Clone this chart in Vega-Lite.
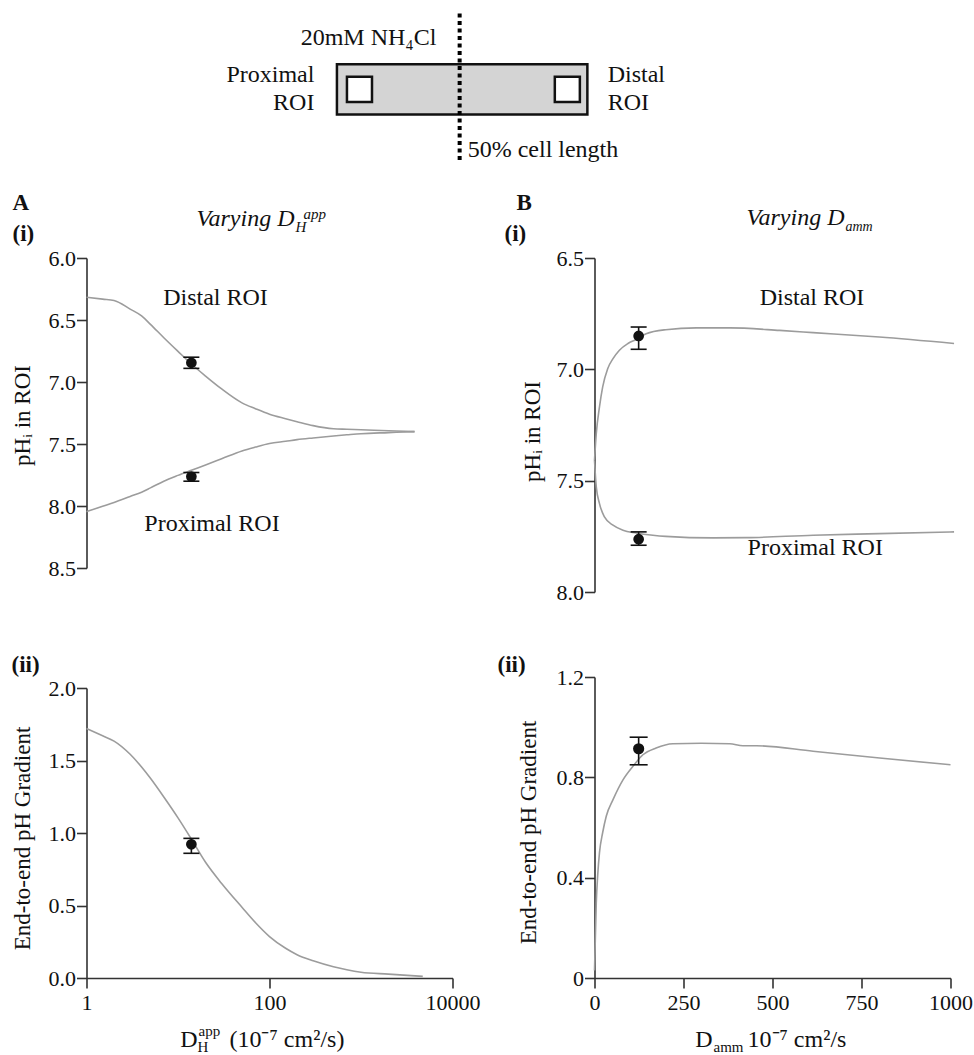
{
  "$schema": "https://vega.github.io/schema/vega-lite/v6.json",
  "background": "white",
  "padding": {"left": 11.5, "top": 8, "right": 2, "bottom": 2},
  "bounds": "flush",
  "spacing": 98,
  "config": {
    "font": "Liberation Serif",
    "view": {"stroke": null},
    "axis": {
      "grid": false,
      "domainColor": "#333333",
      "domainWidth": 1.6,
      "tickColor": "#333333",
      "tickWidth": 1.6,
      "tickSize": 10,
      "labelFont": "Liberation Serif",
      "labelFontSize": 22,
      "labelColor": "#111111",
      "labelFlush": false,
      "labelOverlap": false,
      "labelPadding": 1,
      "titleFont": "Liberation Serif",
      "titleFontSize": 23,
      "titleFontWeight": "normal",
      "titleColor": "#111111"
    },
    "text": {"font": "Liberation Serif", "fontSize": 23, "color": "#111111"}
  },
  "datasets": {
    "cell": [{"x": 0, "x2": 100, "y": -10, "y2": 10}],
    "rois": [
      {"roi": "Proximal", "x": 4, "x2": 14, "y": -5, "y2": 5},
      {"roi": "Distal", "x": 87, "x2": 97, "y": -5, "y2": 5}
    ],
    "midline": [{"x": 49, "y": -28.2, "y2": 31.7}],
    "diagram_labels_right": [
      {"label": "20mM NH₄Cl", "x": 39.7, "y": 17.8},
      {"label": "Proximal", "x": -9, "y": 2.8},
      {"label": "ROI", "x": -9, "y": -8.1}
    ],
    "diagram_labels_left": [
      {"label": "Distal", "x": 108.1, "y": 2.8},
      {"label": "ROI", "x": 108.1, "y": -8.1},
      {"label": "50% cell length", "x": 52.2, "y": -26.9}
    ],
    "ai_curves": [
      {"roi": "Distal", "D": 1, "v": 6.317}, {"roi": "Distal", "D": 1.5, "v": 6.332}, {"roi": "Distal", "D": 2, "v": 6.342},
      {"roi": "Distal", "D": 3, "v": 6.412}, {"roi": "Distal", "D": 4, "v": 6.467}, {"roi": "Distal", "D": 5, "v": 6.535},
      {"roi": "Distal", "D": 7, "v": 6.643}, {"roi": "Distal", "D": 10, "v": 6.753}, {"roi": "Distal", "D": 14, "v": 6.855},
      {"roi": "Distal", "D": 20, "v": 6.952}, {"roi": "Distal", "D": 30, "v": 7.056}, {"roi": "Distal", "D": 50, "v": 7.168},
      {"roi": "Distal", "D": 70, "v": 7.215}, {"roi": "Distal", "D": 100, "v": 7.26}, {"roi": "Distal", "D": 150, "v": 7.296},
      {"roi": "Distal", "D": 200, "v": 7.32}, {"roi": "Distal", "D": 300, "v": 7.352}, {"roi": "Distal", "D": 500, "v": 7.377},
      {"roi": "Distal", "D": 700, "v": 7.381}, {"roi": "Distal", "D": 1000, "v": 7.385}, {"roi": "Distal", "D": 2000, "v": 7.393},
      {"roi": "Distal", "D": 3850, "v": 7.4},
      {"roi": "Proximal", "D": 1, "v": 8.046}, {"roi": "Proximal", "D": 1.5, "v": 8.002}, {"roi": "Proximal", "D": 2, "v": 7.971},
      {"roi": "Proximal", "D": 3, "v": 7.923}, {"roi": "Proximal", "D": 4, "v": 7.889}, {"roi": "Proximal", "D": 5, "v": 7.854},
      {"roi": "Proximal", "D": 7, "v": 7.8}, {"roi": "Proximal", "D": 10, "v": 7.753}, {"roi": "Proximal", "D": 14, "v": 7.712},
      {"roi": "Proximal", "D": 20, "v": 7.669}, {"roi": "Proximal", "D": 30, "v": 7.619}, {"roi": "Proximal", "D": 50, "v": 7.556},
      {"roi": "Proximal", "D": 70, "v": 7.525}, {"roi": "Proximal", "D": 100, "v": 7.496}, {"roi": "Proximal", "D": 150, "v": 7.478},
      {"roi": "Proximal", "D": 200, "v": 7.465}, {"roi": "Proximal", "D": 300, "v": 7.451}, {"roi": "Proximal", "D": 500, "v": 7.435},
      {"roi": "Proximal", "D": 700, "v": 7.426}, {"roi": "Proximal", "D": 1000, "v": 7.417}, {"roi": "Proximal", "D": 2000, "v": 7.408},
      {"roi": "Proximal", "D": 3850, "v": 7.4}
    ],
    "ai_errs": [
      {"roi": "Distal", "D": 14, "v": 6.8}, {"roi": "Distal", "D": 14, "v": 6.89},
      {"roi": "Proximal", "D": 14, "v": 7.73}, {"roi": "Proximal", "D": 14, "v": 7.8}
    ],
    "ai_points": [
      {"roi": "Distal", "D": 14, "v": 6.845},
      {"roi": "Proximal", "D": 14, "v": 7.763}
    ],
    "ai_labels": [
      {"label": "Distal ROI", "D": 25.7, "v": 6.32},
      {"label": "Proximal ROI", "D": 23.5, "v": 8.145}
    ],
    "ai_corner": [{"D": 1, "v": 6.0}],
    "aii_curve": [
      {"D": 1, "v": 1.72}, {"D": 1.5, "v": 1.67}, {"D": 2, "v": 1.634}, {"D": 3, "v": 1.543}, {"D": 4, "v": 1.455},
      {"D": 5, "v": 1.377}, {"D": 7, "v": 1.248}, {"D": 10, "v": 1.104}, {"D": 14, "v": 0.958}, {"D": 20, "v": 0.798},
      {"D": 30, "v": 0.652}, {"D": 50, "v": 0.488}, {"D": 70, "v": 0.383}, {"D": 100, "v": 0.286}, {"D": 150, "v": 0.205},
      {"D": 200, "v": 0.161}, {"D": 300, "v": 0.119}, {"D": 500, "v": 0.078}, {"D": 700, "v": 0.057}, {"D": 1000, "v": 0.04},
      {"D": 2000, "v": 0.027}, {"D": 4730, "v": 0.011}
    ],
    "aii_errs": [{"D": 14, "v": 0.86}, {"D": 14, "v": 0.963}],
    "aii_point": [{"D": 14, "v": 0.922}],
    "aii_corner": [{"D": 1, "v": 2.0}],
    "aii_base": [{"D": 1, "v": 0}],
    "bi_curves": [
      {"roi": "Distal", "D": 0, "v": 7.408}, {"roi": "Distal", "D": 5, "v": 7.289}, {"roi": "Distal", "D": 14, "v": 7.169},
      {"roi": "Distal", "D": 23, "v": 7.079}, {"roi": "Distal", "D": 37, "v": 6.997}, {"roi": "Distal", "D": 52, "v": 6.952},
      {"roi": "Distal", "D": 70, "v": 6.914}, {"roi": "Distal", "D": 94, "v": 6.884}, {"roi": "Distal", "D": 117, "v": 6.866},
      {"roi": "Distal", "D": 145, "v": 6.84}, {"roi": "Distal", "D": 200, "v": 6.822}, {"roi": "Distal", "D": 286, "v": 6.814},
      {"roi": "Distal", "D": 380, "v": 6.814}, {"roi": "Distal", "D": 520, "v": 6.825}, {"roi": "Distal", "D": 614, "v": 6.835},
      {"roi": "Distal", "D": 800, "v": 6.855}, {"roi": "Distal", "D": 1010, "v": 6.884},
      {"roi": "Proximal", "D": 0, "v": 7.408}, {"roi": "Proximal", "D": 5, "v": 7.528}, {"roi": "Proximal", "D": 14, "v": 7.603},
      {"roi": "Proximal", "D": 28, "v": 7.663}, {"roi": "Proximal", "D": 52, "v": 7.7}, {"roi": "Proximal", "D": 80, "v": 7.723},
      {"roi": "Proximal", "D": 117, "v": 7.735}, {"roi": "Proximal", "D": 164, "v": 7.745}, {"roi": "Proximal", "D": 200, "v": 7.75},
      {"roi": "Proximal", "D": 333, "v": 7.757}, {"roi": "Proximal", "D": 426, "v": 7.756}, {"roi": "Proximal", "D": 614, "v": 7.745},
      {"roi": "Proximal", "D": 800, "v": 7.738}, {"roi": "Proximal", "D": 1010, "v": 7.73}
    ],
    "bi_errs": [
      {"roi": "Distal", "D": 124, "v": 6.81}, {"roi": "Distal", "D": 124, "v": 6.91},
      {"roi": "Proximal", "D": 124, "v": 7.73}, {"roi": "Proximal", "D": 124, "v": 7.79}
    ],
    "bi_points": [
      {"roi": "Distal", "D": 124, "v": 6.85},
      {"roi": "Proximal", "D": 124, "v": 7.763}
    ],
    "bi_labels": [
      {"label": "Distal ROI", "D": 611, "v": 6.679},
      {"label": "Proximal ROI", "D": 620, "v": 7.801}
    ],
    "bi_corner": [{"D": 0, "v": 6.5}],
    "bii_curve": [
      {"D": 0, "v": 0.03}, {"D": 5, "v": 0.3}, {"D": 9, "v": 0.41}, {"D": 14, "v": 0.5}, {"D": 23, "v": 0.58},
      {"D": 33, "v": 0.645}, {"D": 52, "v": 0.711}, {"D": 80, "v": 0.79}, {"D": 108, "v": 0.844}, {"D": 136, "v": 0.89},
      {"D": 173, "v": 0.917}, {"D": 220, "v": 0.934}, {"D": 300, "v": 0.936}, {"D": 380, "v": 0.934}, {"D": 417, "v": 0.926},
      {"D": 455, "v": 0.926}, {"D": 614, "v": 0.904}, {"D": 801, "v": 0.877}, {"D": 1000, "v": 0.85}
    ],
    "bii_errs": [{"D": 124, "v": 0.85}, {"D": 124, "v": 0.96}],
    "bii_point": [{"D": 124, "v": 0.914}],
    "bii_corner": [{"D": 0, "v": 1.2}],
    "bii_base": [{"D": 0, "v": 0}]
  },
  "vconcat": [
    {
      "width": 864,
      "height": 150,
      "encoding": {
        "x": {"field": "x", "type": "quantitative", "scale": {"domain": [-100, 245], "nice": false, "zero": false}, "axis": null},
        "y": {"field": "y", "type": "quantitative", "scale": {"domain": [-28.2, 31.7], "nice": false, "zero": false}, "axis": null}
      },
      "layer": [
        {"data": {"name": "cell"}, "mark": {"type": "rect", "fill": "#d4d4d4", "stroke": "#111111", "strokeWidth": 2.5}, "encoding": {"x2": {"field": "x2"}, "y2": {"field": "y2"}}},
        {"data": {"name": "rois"}, "mark": {"type": "rect", "fill": "#ffffff", "stroke": "#111111", "strokeWidth": 2.5}, "encoding": {"x2": {"field": "x2"}, "y2": {"field": "y2"}}},
        {"data": {"name": "midline"}, "mark": {"type": "rule", "stroke": "#000000", "strokeWidth": 4, "strokeDash": [4, 3.5]}, "encoding": {"y2": {"field": "y2"}}},
        {"data": {"name": "diagram_labels_right"}, "mark": {"type": "text", "align": "right", "baseline": "alphabetic", "fontSize": 24}, "encoding": {"text": {"field": "label"}}},
        {"data": {"name": "diagram_labels_left"}, "mark": {"type": "text", "align": "left", "baseline": "alphabetic", "fontSize": 24}, "encoding": {"text": {"field": "label"}}}
      ]
    },
    {
      "columns": 2,
      "spacing": {"row": 85, "column": 142},
      "bounds": "flush",
      "align": "each",
      "concat": [
        {
          "width": 366,
          "height": 310,
          "encoding": {
            "x": {"field": "D", "type": "quantitative", "scale": {"type": "log", "domain": [1, 10000], "nice": false}, "axis": null},
            "y": {"field": "v", "type": "quantitative", "scale": {"domain": [6.0, 8.5], "reverse": true, "nice": false, "zero": false},
              "axis": {"values": [6.0, 6.5, 7.0, 7.5, 8.0, 8.5], "format": ".1f", "title": "pHᵢ in ROI", "titleX": -64, "titleY": 157, "titleBaseline": "middle"}}
          },
          "layer": [
            {"data": {"name": "ai_curves"}, "mark": {"type": "line", "color": "#9c9c9c", "strokeWidth": 1.6, "interpolate": "monotone"}, "encoding": {"detail": {"field": "roi"}}},
            {"data": {"name": "ai_errs"}, "mark": {"type": "line", "color": "#111111", "strokeWidth": 1.6}, "encoding": {"detail": {"field": "roi"}}},
            {"data": {"name": "ai_errs"}, "mark": {"type": "tick", "orient": "horizontal", "size": 16, "thickness": 1.6, "color": "#111111", "opacity": 1}},
            {"data": {"name": "ai_points"}, "mark": {"type": "circle", "size": 115, "color": "#111111", "opacity": 1}},
            {"data": {"name": "ai_labels"}, "mark": {"type": "text", "align": "center", "baseline": "middle", "fontSize": 24}, "encoding": {"text": {"field": "label"}}},
            {"data": {"name": "ai_corner"}, "mark": {"type": "text", "text": "A", "fontWeight": "bold", "align": "left", "baseline": "alphabetic", "dx": -74, "dy": -48}},
            {"data": {"name": "ai_corner"}, "mark": {"type": "text", "text": "(i)", "fontWeight": "bold", "align": "left", "baseline": "alphabetic", "dx": -74, "dy": -17}},
            {"data": {"name": "ai_corner"}, "mark": {"type": "text", "text": "Varying D", "fontStyle": "italic", "fontSize": 24, "align": "right", "baseline": "alphabetic", "dx": 208, "dy": -32}},
            {"data": {"name": "ai_corner"}, "mark": {"type": "text", "text": "H", "fontStyle": "italic", "fontSize": 15, "align": "left", "baseline": "alphabetic", "dx": 209, "dy": -26}},
            {"data": {"name": "ai_corner"}, "mark": {"type": "text", "text": "app", "fontStyle": "italic", "fontSize": 15, "align": "left", "baseline": "alphabetic", "dx": 217, "dy": -39}}
          ]
        },
        {
          "width": 356,
          "height": 334,
          "encoding": {
            "x": {"field": "D", "type": "quantitative", "scale": {"domain": [0, 1000], "nice": false}, "axis": null},
            "y": {"field": "v", "type": "quantitative", "scale": {"domain": [6.5, 8.0], "reverse": true, "nice": false, "zero": false},
              "axis": {"values": [6.5, 7.0, 7.5, 8.0], "format": ".1f", "title": "pHᵢ in ROI", "titleX": -62, "titleY": 173, "titleBaseline": "middle"}}
          },
          "layer": [
            {"data": {"name": "bi_curves"}, "mark": {"type": "line", "color": "#9c9c9c", "strokeWidth": 1.6, "interpolate": "monotone"}, "encoding": {"detail": {"field": "roi"}}},
            {"data": {"name": "bi_errs"}, "mark": {"type": "line", "color": "#111111", "strokeWidth": 1.6}, "encoding": {"detail": {"field": "roi"}}},
            {"data": {"name": "bi_errs"}, "mark": {"type": "tick", "orient": "horizontal", "size": 16, "thickness": 1.6, "color": "#111111", "opacity": 1}},
            {"data": {"name": "bi_points"}, "mark": {"type": "circle", "size": 115, "color": "#111111", "opacity": 1}},
            {"data": {"name": "bi_labels"}, "mark": {"type": "text", "align": "center", "baseline": "middle", "fontSize": 24}, "encoding": {"text": {"field": "label"}}},
            {"data": {"name": "bi_corner"}, "mark": {"type": "text", "text": "B", "fontWeight": "bold", "align": "left", "baseline": "alphabetic", "dx": -78, "dy": -48}},
            {"data": {"name": "bi_corner"}, "mark": {"type": "text", "text": "(i)", "fontWeight": "bold", "align": "left", "baseline": "alphabetic", "dx": -90, "dy": -17}},
            {"data": {"name": "bi_corner"}, "mark": {"type": "text", "text": "Varying D", "fontStyle": "italic", "fontSize": 24, "align": "right", "baseline": "alphabetic", "dx": 250, "dy": -33}},
            {"data": {"name": "bi_corner"}, "mark": {"type": "text", "text": "amm", "fontStyle": "italic", "fontSize": 14, "align": "left", "baseline": "alphabetic", "dx": 251, "dy": -27}}
          ]
        },
        {
          "width": 366,
          "height": 301,
          "encoding": {
            "x": {"field": "D", "type": "quantitative", "scale": {"type": "log", "domain": [1, 10000], "nice": false},
              "axis": {"values": [1, 100, 10000], "format": "d", "title": null, "labelPadding": 4}},
            "y": {"field": "v", "type": "quantitative", "scale": {"domain": [0, 2], "range": [301, 11], "nice": false},
              "axis": {"values": [0, 0.5, 1.0, 1.5, 2.0], "format": ".1f", "title": "End-to-end pH Gradient", "titleX": -64, "titleY": 161, "titleBaseline": "middle"}}
          },
          "layer": [
            {"data": {"name": "aii_curve"}, "mark": {"type": "line", "color": "#9c9c9c", "strokeWidth": 1.6, "interpolate": "monotone"}},
            {"data": {"name": "aii_errs"}, "mark": {"type": "line", "color": "#111111", "strokeWidth": 1.6}},
            {"data": {"name": "aii_errs"}, "mark": {"type": "tick", "orient": "horizontal", "size": 16, "thickness": 1.6, "color": "#111111", "opacity": 1}},
            {"data": {"name": "aii_point"}, "mark": {"type": "circle", "size": 115, "color": "#111111", "opacity": 1}},
            {"data": {"name": "aii_corner"}, "mark": {"type": "text", "text": "(ii)", "fontWeight": "bold", "align": "left", "baseline": "alphabetic", "dx": -75, "dy": -16}},
            {"data": {"name": "aii_base"}, "mark": {"type": "text", "text": "D", "fontSize": 24, "align": "right", "baseline": "alphabetic", "dx": 111, "dy": 69}},
            {"data": {"name": "aii_base"}, "mark": {"type": "text", "text": "H", "fontSize": 15, "align": "left", "baseline": "alphabetic", "dx": 111, "dy": 74}},
            {"data": {"name": "aii_base"}, "mark": {"type": "text", "text": "app", "fontSize": 15, "align": "left", "baseline": "alphabetic", "dx": 112, "dy": 58}},
            {"data": {"name": "aii_base"}, "mark": {"type": "text", "text": "(10⁻⁷ cm²/s)", "fontSize": 24, "align": "left", "baseline": "alphabetic", "dx": 143, "dy": 69}}
          ]
        },
        {
          "width": 356,
          "height": 301,
          "encoding": {
            "x": {"field": "D", "type": "quantitative", "scale": {"domain": [0, 1000], "nice": false},
              "axis": {"values": [0, 250, 500, 750, 1000], "format": "d", "title": null, "labelPadding": 4}},
            "y": {"field": "v", "type": "quantitative", "scale": {"domain": [0, 1.2], "nice": false},
              "axis": {"values": [0, 0.4, 0.8, 1.2], "labelExpr": "datum.value === 0 ? '0' : format(datum.value, '.1f')", "title": "End-to-end pH Gradient", "titleX": -66, "titleY": 155, "titleBaseline": "middle"}}
          },
          "layer": [
            {"data": {"name": "bii_curve"}, "mark": {"type": "line", "color": "#9c9c9c", "strokeWidth": 1.6, "interpolate": "monotone"}},
            {"data": {"name": "bii_errs"}, "mark": {"type": "line", "color": "#111111", "strokeWidth": 1.6}},
            {"data": {"name": "bii_errs"}, "mark": {"type": "tick", "orient": "horizontal", "size": 18, "thickness": 1.6, "color": "#111111", "opacity": 1}},
            {"data": {"name": "bii_point"}, "mark": {"type": "circle", "size": 125, "color": "#111111", "opacity": 1}},
            {"data": {"name": "bii_corner"}, "mark": {"type": "text", "text": "(ii)", "fontWeight": "bold", "align": "left", "baseline": "alphabetic", "dx": -97, "dy": -5}},
            {"data": {"name": "bii_base"}, "mark": {"type": "text", "text": "D", "fontSize": 24, "align": "right", "baseline": "alphabetic", "dx": 118, "dy": 69}},
            {"data": {"name": "bii_base"}, "mark": {"type": "text", "text": "amm", "fontSize": 15, "align": "left", "baseline": "alphabetic", "dx": 119, "dy": 74}},
            {"data": {"name": "bii_base"}, "mark": {"type": "text", "text": "10⁻⁷ cm²/s", "fontSize": 24, "align": "left", "baseline": "alphabetic", "dx": 153, "dy": 69}}
          ]
        }
      ]
    }
  ]
}
